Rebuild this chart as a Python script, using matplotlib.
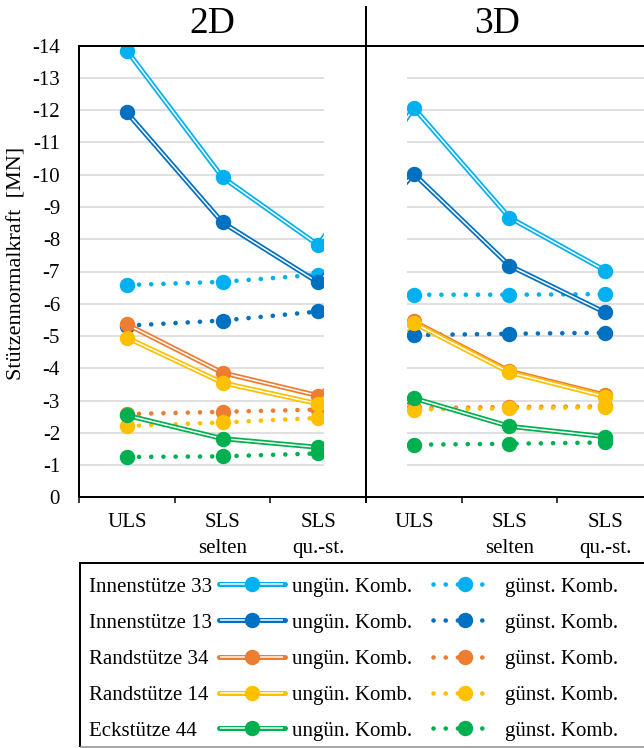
import matplotlib
matplotlib.use("Agg")
import matplotlib.pyplot as plt
from matplotlib.patches import Rectangle
import numpy as np

plt.rcParams["font.family"] = ["Liberation Serif", "DejaVu Serif"]
plt.rcParams["axes.unicode_minus"] = False

# ---- data -------------------------------------------------------------
categories = ["ULS", "SLS\nselten", "SLS\nqu.-st."]
panels = ["2D", "3D"]
columns = ["Innenstütze 33", "Innenstütze 13", "Randstütze 34",
           "Randstütze 14", "Eckstütze 44"]
colors = ["#00B0F0", "#0070C0", "#ED7D31", "#FFC000", "#00B050"]
kind_labels = ["ungün. Komb.", "günst. Komb."]

# values per column: 2D (ULS, selten, qu.-st.) followed by 3D (ULS, selten, qu.-st.)
in33_ungue = [-13.85, -9.92, -7.82, -12.07, -8.67, -7.03]
in33_guen = [-6.58, -6.68, -6.90, -6.28, -6.28, -6.30]
in13_ungue = [-11.93, -8.52, -6.66, -10.03, -7.18, -5.73]
in13_guen = [-5.32, -5.48, -5.76, -5.03, -5.07, -5.10]
rd34_ungue = [-5.36, -3.86, -3.15, -5.45, -3.91, -3.17]
rd34_guen = [-2.58, -2.65, -2.72, -2.76, -2.80, -2.82]
rd14_ungue = [-4.95, -3.55, -2.90, -5.40, -3.87, -3.12]
rd14_guen = [-2.21, -2.32, -2.46, -2.72, -2.76, -2.79]
eck44_ungue = [-2.54, -1.82, -1.55, -3.07, -2.20, -1.88]
eck44_guen = [-1.25, -1.27, -1.36, -1.63, -1.66, -1.70]

yticks = list(range(0, -15, -1))

ungue = [in33_ungue, in13_ungue, rd34_ungue, rd14_ungue, eck44_ungue]
guen = [in33_guen, in13_guen, rd34_guen, rd14_guen, eck44_guen]

# ---- figure -----------------------------------------------------------
W, H, DPI = 644, 748, 100
PX = 72.0 / DPI  # points per pixel
fig = plt.figure(figsize=(W / DPI, H / DPI), dpi=DPI)

x0, x1 = 79, 653
ybot, ytop = 497.3, 45.7
ax = fig.add_axes([x0 / W, (H - ybot) / H, (x1 - x0) / W, (ybot - ytop) / H])
ncat = len(categories) * len(panels)
ax.set_xlim(0, ncat)
ax.set_ylim(0, -14)

xc = np.arange(ncat) + 0.5

ax.set_yticks(yticks)
ax.set_yticklabels([str(t) for t in yticks])
ax.yaxis.grid(True, color="#D9D9D9", lw=1.6 * PX)
ax.set_axisbelow(True)
ax.tick_params(axis="y", length=0, pad=19 * PX, labelsize=15)

ax.set_xticks(np.arange(ncat + 1))
ax.set_xticklabels([])
ax.tick_params(axis="x", which="major", length=6 * PX, width=1.5 * PX,
               direction="out", color="black")
ax.set_xticks(xc, minor=True)
ax.set_xticklabels(categories * len(panels), minor=True, linespacing=1.45)
ax.tick_params(axis="x", which="minor", length=0, pad=16 * PX, labelsize=15)

for side in ("left", "top", "bottom"):
    ax.spines[side].set_linewidth(2 * PX)
    ax.spines[side].set_color("black")
    ax.spines[side].set_zorder(30)
ax.spines["right"].set_visible(False)

ax.set_ylabel("Stützennormalkraft  [MN]", fontsize=16)
ax.yaxis.label.set_va("center")
ax.yaxis.set_label_coords((17.5 - x0) / (x1 - x0), (ybot - 263) / (ybot - ytop))

MS = 14 * PX
LW_OUT = 5 * PX
LW_IN = 1.5 * PX
LW_DOT = 4.6 * PX
DOTS = (0, (0.02, 2.63))

z = 3
for i, c in enumerate(colors):
    # unfavourable combination: double line
    ax.plot(xc, ungue[i], color=c, lw=LW_OUT, solid_capstyle="round",
            solid_joinstyle="round", zorder=z)
    ax.plot(xc, ungue[i], color="white", lw=LW_IN, solid_capstyle="butt",
            solid_joinstyle="round", zorder=z + 0.1)
    ax.plot(xc, ungue[i], ls="none", marker="o", ms=MS, color=c, mec=c,
            zorder=z + 0.2)
    z += 1
    # favourable combination: round dots
    ax.plot(xc, guen[i], color=c, lw=LW_DOT, ls=DOTS, dash_capstyle="round",
            zorder=z)
    ax.plot(xc, guen[i], ls="none", marker="o", ms=MS, color=c, mec=c,
            zorder=z + 0.2)
    z += 1

# blank gap between the 2D and 3D panels
ax.add_patch(Rectangle((2.561, 0), 0.871, -14, facecolor="white",
                       edgecolor="none", zorder=20))

# ---- overlay in pixel coordinates -------------------------------------
ov = fig.add_axes([0, 0, 1, 1], zorder=5)
ov.set_xlim(0, W)
ov.set_ylim(H, 0)
ov.axis("off")

ov.plot([365.7, 365.7], [6, 503], color="black", lw=2 * PX,
        solid_capstyle="butt")
for label, xt in zip(panels, (212, 497)):
    ov.text(xt, 33.3, label, fontsize=27, ha="center", va="baseline")

# legend frame
ov.plot([80, 80], [563, 747], color="black", lw=2 * PX, solid_capstyle="butt")
ov.plot([79, W], [563, 563], color="black", lw=2 * PX, solid_capstyle="butt")
ov.plot([80, W], [747, 747], color="#8C8C8C", lw=1.5 * PX, solid_capstyle="butt")

row_y = [584.3, 620.2, 656.5, 692.5, 728.4]
for name, c, y in zip(columns, colors, row_y):
    ov.text(89, y + 7.4, name, fontsize=15, ha="left", va="baseline")
    ov.plot([219, 285], [y, y], color=c, lw=LW_OUT, solid_capstyle="round")
    ov.plot([220.5, 283.5], [y, y], color="white", lw=LW_IN,
            solid_capstyle="butt")
    ov.plot([252], [y], ls="none", marker="o", ms=MS, color=c, mec=c)
    ov.text(292, y + 7.4, kind_labels[0], fontsize=15, ha="left",
            va="baseline")
    ov.plot([433, 493], [y, y], color=c, lw=LW_DOT, ls=DOTS,
            dash_capstyle="round")
    ov.plot([465], [y], ls="none", marker="o", ms=MS, color=c, mec=c)
    ov.text(505, y + 7.4, kind_labels[1], fontsize=15, ha="left",
            va="baseline")

fig.savefig("out.png", dpi=DPI)
